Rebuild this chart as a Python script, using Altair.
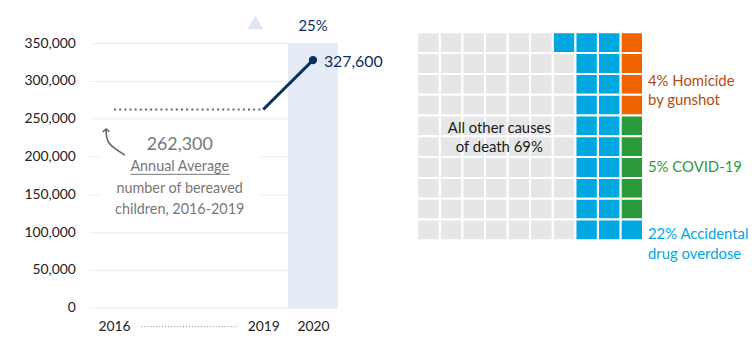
import altair as alt
import pandas as pd

FONT = "Lato"
NAVY = "#0b2f5f"
GRAY_TXT = "#777777"

# ---------------- data ----------------
y_ticks = [0, 50000, 100000, 150000, 200000, 250000, 300000, 350000]
x_ticks = [2016, 2019, 2020]
avg_years = [2016, 2019]
avg_values = [262300, 262300]
trend_years = [2019, 2020]
trend_values = [262300, 327600]
latest_label = "327,600"
change_label = "25%"
annotation_lines = ["262,300", "Annual Average", "number of bereaved", "children, 2016-2019"]

causes = ["Homicide by gunshot", "COVID-19", "Accidental drug overdose", "All other causes of death"]
cause_pcts = [4, 5, 22, 69]
cause_colors = ["#f06400", "#2a9a3a", "#00a7e1", "#e6e6e6"]
cause_label_lines = [["4% Homicide", "by gunshot"], ["5% COVID-19"], ["22% Accidental", "drug overdose"],
                     ["All other causes", "of death 69%"]]
cause_text_colors = ["#b04c0c", "#2a9a3a", "#00a7e1", "#1a1a1a"]

# ---------------- left chart ----------------
Y_MAX = 364420
W_L, H_L = 251, 278
xs = alt.Scale(domain=[2015.5, 2020.5], nice=False, zero=False)
ys = alt.Scale(domain=[0, Y_MAX], nice=False)
x_axis = alt.Axis(values=x_ticks, format=".0f", title=None, grid=False, domain=False, ticks=False,
                  labelPadding=12, labelFontSize=14, labelColor="#222", labelFont=FONT)
y_axis = alt.Axis(values=y_ticks, format=",.0f", title=None, grid=True, gridColor="#ececec", domain=False,
                  ticks=False, labelPadding=14, labelFontSize=14, labelColor="#222", labelFont=FONT)


def X(f):
    return alt.X(f, scale=xs, axis=x_axis)


def Y(f):
    return alt.Y(f, scale=ys, axis=y_axis)


avg_df = pd.DataFrame({"year": avg_years, "value": avg_values})
trend_df = pd.DataFrame({"year": trend_years, "value": trend_values})

band = alt.Chart(pd.DataFrame({"a": [2019.5], "b": [2020.5], "y0": [0], "y1": [350000]})).mark_rect(
    color="#e4ebf5").encode(x=X("a:Q"), x2="b:Q", y=Y("y0:Q"), y2="y1:Q")

mask = alt.Chart(pd.DataFrame({"a": [2015.72], "b": [2018.92], "y0": [123000], "y1": [241000]})).mark_rect(
    color="white").encode(x=X("a:Q"), x2="b:Q", y=Y("y0:Q"), y2="y1:Q")

avg_line = alt.Chart(avg_df).mark_line(color="#666666", strokeDash=[2, 3.2], strokeWidth=2).encode(
    x=X("year:Q"), y=Y("value:Q"))

trend_line = alt.Chart(trend_df).mark_line(color=NAVY, strokeWidth=3).encode(
    x=X("year:Q"), y=Y("value:Q"))

last_pt = alt.Chart(trend_df.tail(1)).mark_circle(color=NAVY, size=70, opacity=1).encode(
    x=X("year:Q"), y=Y("value:Q"))

last_lbl = alt.Chart(trend_df.tail(1).assign(lbl=latest_label)).mark_text(
    align="left", dx=11, dy=2, font=FONT, fontSize=16, color=NAVY).encode(
    x=X("year:Q"), y=Y("value:Q"), text="lbl:N")

tri = alt.Chart(pd.DataFrame({"year": [2018.84], "value": [377500]})).mark_point(
    shape="triangle-up", filled=True, size=260, color="#dde6f2", opacity=1).encode(
    x=X("year:Q"), y=Y("value:Q"))

pct = alt.Chart(pd.DataFrame({"year": [2020], "value": [372300], "t": [change_label]})).mark_text(
    font=FONT, fontSize=15, color=NAVY).encode(x=X("year:Q"), y=Y("value:Q"), text="t:N")

ann_df = pd.DataFrame({
    "year": [2017.32] * 4,
    "value": [214981, 186142, 157303, 129775],
    "t": annotation_lines,
    "fs": [18, 14.5, 14.5, 14.5],
})
ann = alt.Chart(ann_df).mark_text(font=FONT, color=GRAY_TXT).encode(
    x=X("year:Q"), y=Y("value:Q"), text="t:N", size=alt.Size("fs:Q", scale=None, legend=None))

underline = alt.Chart(pd.DataFrame({"a": [2016.33], "b": [2018.33], "v": [176500]})).mark_rule(
    color=GRAY_TXT, strokeWidth=1).encode(x=X("a:Q"), x2="b:Q", y=Y("v:Q"))

arrow_df = pd.DataFrame({"year": [2016.22, 2015.9, 2015.84], "value": [201900, 218000, 236500], "o": [0, 1, 2]})
arrow = alt.Chart(arrow_df).mark_line(color="#666666", strokeWidth=1.6, interpolate="cardinal").encode(
    x=X("year:Q"), y=Y("value:Q"), order="o:Q")
arrow_head = alt.Chart(arrow_df.tail(1)).mark_point(
    shape="M-1,0.9L0,0L1,0.9", filled=False, size=45, color="#666666", strokeWidth=1.6, opacity=1).encode(
    x=X("year:Q"), y=Y("value:Q"))

axis_dots = alt.Chart(pd.DataFrame({"a": [2016.55], "b": [2018.47], "v": [-25000]})).mark_rule(
    color="#888888", strokeDash=[1, 2], strokeWidth=1).encode(x=X("a:Q"), x2="b:Q", y=Y("v:Q"))

left = alt.layer(band, mask, avg_line, trend_line, last_pt, last_lbl, tri, pct, ann, underline,
                 arrow, arrow_head, axis_dots).properties(width=W_L, height=H_L)

# ---------------- waffle ----------------
order = []
for c, n in zip(causes, cause_pcts):
    order += [c] * n
cells = pd.DataFrame({
    "cause": order,
    "col": [9 - i // 10 for i in range(100)],
    "row": [i % 10 for i in range(100)],
})
cells["col2"] = cells["col"] + 1
cells["row2"] = cells["row"] + 1

wx = alt.Scale(domain=[0, 10], nice=False)
wy = alt.Scale(domain=[0, 10], nice=False, reverse=True)

waffle = alt.Chart(cells).mark_rect(stroke="white", strokeWidth=2).encode(
    x=alt.X("col:Q", scale=wx, axis=None), x2="col2:Q",
    y=alt.Y("row:Q", scale=wy, axis=None), y2="row2:Q",
    color=alt.Color("cause:N", scale=alt.Scale(domain=causes, range=cause_colors), legend=None))

lab_x = [10.22, 10.22, 10.22, 10.22, 10.22, 3.64, 3.64]
lab_y = [2.33, 3.24, 6.48, 9.71, 10.67, 4.62, 5.52]
lab_t = cause_label_lines[0] + cause_label_lines[1] + cause_label_lines[2] + cause_label_lines[3]
lab_c = [cause_text_colors[0]] * 2 + [cause_text_colors[1]] + [cause_text_colors[2]] * 2 + [cause_text_colors[3]] * 2
lab_df = pd.DataFrame({"x": lab_x, "y": lab_y, "t": lab_t, "c": lab_c})

labels_left = alt.Chart(lab_df.iloc[:5]).mark_text(align="left", font=FONT, fontSize=15).encode(
    x=alt.X("x:Q", scale=wx, axis=None), y=alt.Y("y:Q", scale=wy, axis=None), text="t:N",
    color=alt.Color("c:N", scale=None))
labels_mid = alt.Chart(lab_df.iloc[5:]).mark_text(align="center", font=FONT, fontSize=15).encode(
    x=alt.X("x:Q", scale=wx, axis=None), y=alt.Y("y:Q", scale=wy, axis=None), text="t:N",
    color=alt.Color("c:N", scale=None))

right = alt.layer(waffle, labels_left, labels_mid).properties(width=228, height=210)

chart = alt.hconcat(left, right, spacing=80, bounds="flush").configure_view(stroke=None).properties(
    padding={"left": 24, "top": 14, "right": 5, "bottom": 5}, background="white")

chart.save("out.html", embed_options={"renderer": "svg", "actions": False})
